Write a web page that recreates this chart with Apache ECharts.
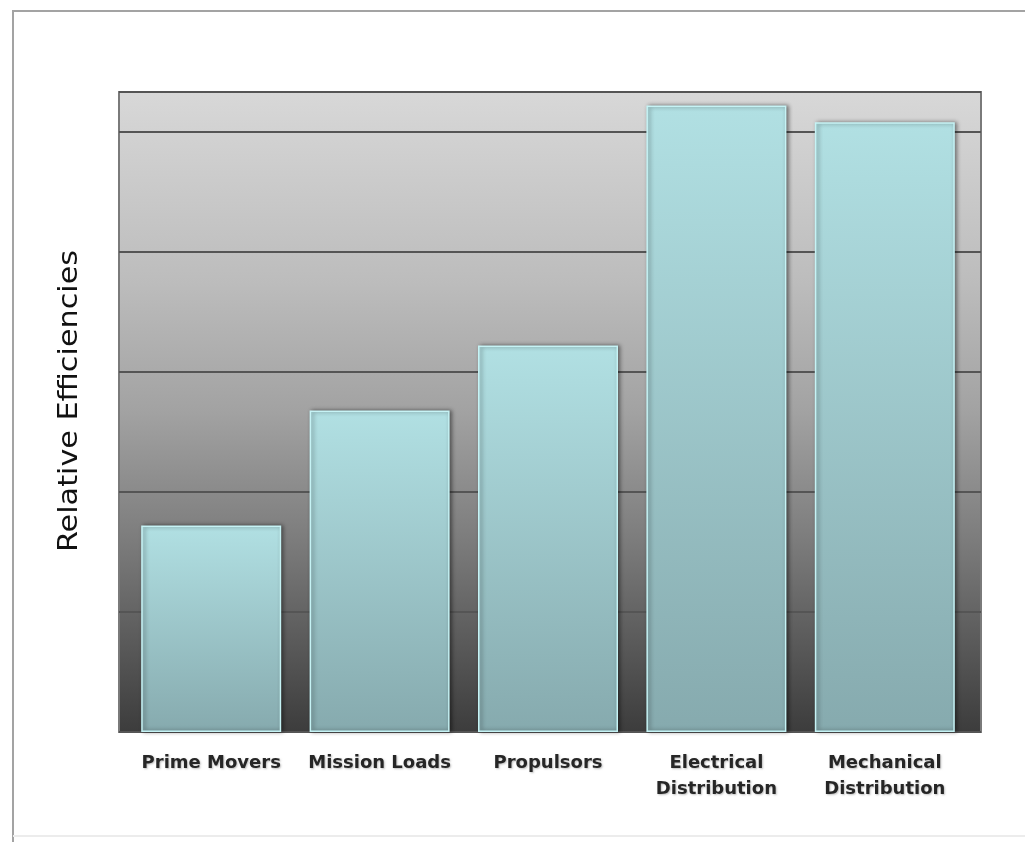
<!DOCTYPE html>
<html>
<head>
<meta charset="utf-8">
<script src="https://cdn.jsdelivr.net/npm/echarts@6/dist/echarts.min.js"></script>
<style>
html,body{margin:0;padding:0;background:#fff;}
#chart{width:1025px;height:842px;}
</style>
</head>
<body>
<div id="chart"></div>
<script>
const categories = ['Prime Movers', 'Mission Loads', 'Propulsors', 'Electrical\nDistribution', 'Mechanical\nDistribution'];
const values = [1.72, 2.68, 3.22, 5.22, 5.08];
const axisName = 'Relative Efficiencies';
const yMin = 0, yMax = 5.333, yInterval = 1;

const chart = echarts.init(document.getElementById('chart'));
chart.setOption({
  animation: false,
  backgroundColor: '#ffffff',
  graphic: [
    { type: 'polyline', shape: { points: [[13, 842], [13, 11], [1030, 11]] },
      style: { stroke: '#a3a3a3', lineWidth: 2, fill: null } },
    { type: 'line', shape: { x1: 13, y1: 836, x2: 1025, y2: 836 },
      style: { stroke: '#ececec', lineWidth: 2 } },
    { type: 'text', x: 70, y: 401, rotation: Math.PI / 2, scaleX: 1.12,
      style: { text: axisName, fontFamily: 'DejaVu Sans, sans-serif', fontSize: 27,
        fill: '#111', align: 'center', verticalAlign: 'middle' } }
  ],
  grid: [
    { left: 119, top: 92, width: 862, height: 640, show: true,
      borderColor: '#7a7a7a', borderWidth: 2,
      backgroundColor: { type: 'linear', x: 0, y: 0, x2: 0, y2: 1, colorStops: [
        { offset: 0, color: '#d8d8d8' },
        { offset: 0.3, color: '#bcbcbc' },
        { offset: 0.5, color: '#a2a2a2' },
        { offset: 0.7, color: '#7c7c7c' },
        { offset: 0.85, color: '#5c5c5c' },
        { offset: 1, color: '#3c3c3c' } ] } },
    { left: 127, top: 92, width: 842, height: 640 }
  ],
  xAxis: [
    { gridIndex: 0, type: 'category', data: categories, show: false },
    { gridIndex: 1, type: 'category', data: categories,
      axisLine: { show: false }, axisTick: { show: false },
      axisLabel: { margin: 18, interval: 0, color: '#262626', fontFamily: 'DejaVu Sans, sans-serif',
        fontWeight: 'bold', fontSize: 18, lineHeight: 26,
        textShadowColor: 'rgba(0,0,0,0.25)', textShadowBlur: 2, textShadowOffsetX: 1, textShadowOffsetY: 1 } }
  ],
  yAxis: [
    { gridIndex: 0, type: 'value', min: yMin, max: yMax, interval: yInterval,
      axisLine: { show: false }, axisTick: { show: false }, axisLabel: { show: false },
      splitLine: { show: true, lineStyle: { color: '#555555', width: 2 } } },
    { gridIndex: 1, type: 'value', min: yMin, max: yMax, interval: yInterval, show: false,
      splitLine: { show: false } }
  ],
  series: [{
    type: 'bar', xAxisIndex: 1, yAxisIndex: 1, data: values, barWidth: 140,
    itemStyle: {
      color: { type: 'linear', x: 0, y: 0, x2: 0, y2: 1, colorStops: [
        { offset: 0, color: '#b1e0e3' },
        { offset: 1, color: '#86aaae' } ] },
      borderColor: '#c6f3f5', borderWidth: 1.5,
      shadowColor: 'rgba(0,0,0,0.45)', shadowBlur: 4, shadowOffsetX: 2, shadowOffsetY: 0
    }
  }]
});
</script>
</body>
</html>
